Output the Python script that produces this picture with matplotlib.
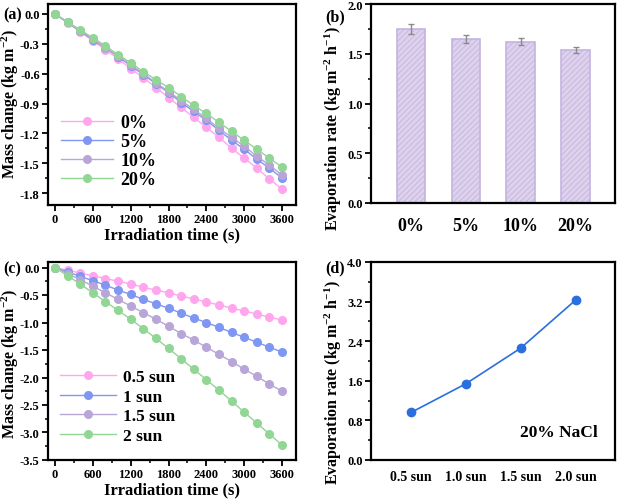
import matplotlib
matplotlib.use("Agg")
import matplotlib.pyplot as plt
from matplotlib.ticker import MultipleLocator, AutoMinorLocator

plt.rcParams['font.family'] = ['Liberation Serif', 'DejaVu Serif']
plt.rcParams['font.weight'] = 'bold'
plt.rcParams['axes.labelweight'] = 'bold'
plt.rcParams['mathtext.fontset'] = 'custom'
plt.rcParams['mathtext.rm'] = 'Liberation Serif:bold'
plt.rcParams['mathtext.default'] = 'rm'
plt.rcParams['hatch.linewidth'] = 0.6

# ---- data ----
time_s = [0, 200, 400, 600, 800, 1000, 1200, 1400, 1600, 1800, 2000,
          2200, 2400, 2600, 2800, 3000, 3200, 3400, 3600]

salt_labels = ['0%', '5%', '10%', '20%']
mass_0 = [0, -0.09, -0.18, -0.27, -0.36, -0.45, -0.55, -0.64, -0.74, -0.84,
          -0.94, -1.04, -1.14, -1.24, -1.35, -1.45, -1.55, -1.66, -1.76]
mass_5 = [0, -0.085, -0.17, -0.26, -0.34, -0.43, -0.52, -0.61, -0.70, -0.79,
          -0.89, -0.98, -1.07, -1.17, -1.27, -1.36, -1.46, -1.55, -1.65]
mass_10 = [0, -0.085, -0.17, -0.25, -0.34, -0.42, -0.51, -0.60, -0.69, -0.78,
           -0.87, -0.96, -1.05, -1.15, -1.24, -1.33, -1.43, -1.52, -1.62]
mass_20 = [0, -0.08, -0.16, -0.24, -0.32, -0.41, -0.49, -0.58, -0.66, -0.74,
           -0.83, -0.92, -1.00, -1.09, -1.18, -1.27, -1.36, -1.45, -1.54]

rate_salt = [1.75, 1.65, 1.62, 1.54]
rate_salt_err = [0.05, 0.04, 0.035, 0.03]

sun_labels = ['0.5 sun', '1 sun', '1.5 sun', '2 sun']
sun_05 = [0, -0.05, -0.10, -0.15, -0.20, -0.25, -0.30, -0.36, -0.41, -0.46,
          -0.52, -0.57, -0.63, -0.68, -0.74, -0.79, -0.85, -0.90, -0.96]
sun_10 = [0, -0.08, -0.16, -0.24, -0.32, -0.41, -0.49, -0.58, -0.66, -0.74,
          -0.83, -0.92, -1.00, -1.09, -1.18, -1.27, -1.36, -1.45, -1.54]
sun_15 = [0, -0.11, -0.22, -0.34, -0.46, -0.58, -0.70, -0.82, -0.94, -1.07,
          -1.20, -1.32, -1.45, -1.58, -1.71, -1.85, -1.98, -2.12, -2.25]
sun_20 = [0, -0.15, -0.30, -0.46, -0.62, -0.78, -0.94, -1.11, -1.29, -1.47,
          -1.66, -1.85, -2.04, -2.23, -2.43, -2.63, -2.83, -3.03, -3.23]

sun_ticks = ['0.5 sun', '1.0 sun', '1.5 sun', '2.0 sun']
rate_sun = [0.96, 1.54, 2.26, 3.23]

colors4 = ['#ffa6ee', '#7f97f2', '#b9a6d8', '#92d695']

fig = plt.figure(figsize=(6.2, 5.02), dpi=100)
W, H = 620, 502
def add_ax(l, t, r, b):
    return fig.add_axes([l / W, 1 - b / H, (r - l) / W, (b - t) / H])

ax_a = add_ax(48, 5, 296, 206)
ax_b = add_ax(371, 5, 615, 204)
ax_c = add_ax(48, 263, 296, 461)
ax_d = add_ax(371, 263, 615, 461)

def style(ax):
    for s in ax.spines.values():
        s.set_linewidth(1.6)
    ax.tick_params(direction='out', length=4, width=1.3, labelsize=9, pad=2)
    ax.tick_params(which='minor', direction='out', length=2.5, width=1.1)

mass_ylabel = 'Mass change (kg m$^{-2}$)'
rate_ylabel = 'Evaporation rate (kg m$^{-2}$ h$^{-1}$)'

# (a)
for ys, lab, c in zip([mass_0, mass_5, mass_10, mass_20], salt_labels, colors4):
    ax_a.plot(time_s, ys, '-o', color=c, lw=1.0, ms=5.5, label=lab)
ax_a.set_xlim(-110, 3820)
ax_a.set_ylim(-1.92, 0.1)
ax_a.xaxis.set_major_locator(MultipleLocator(600))
ax_a.xaxis.set_minor_locator(AutoMinorLocator(2))
ax_a.set_yticks([0, -0.3, -0.6, -0.9, -1.2, -1.5, -1.8])
ax_a.set_yticklabels(['0.0', '-0.3', '-0.6', '-0.9', '-1.2', '-1.5', '-1.8'])
ax_a.yaxis.set_minor_locator(AutoMinorLocator(2))
ax_a.set_xlabel('Irradiation time (s)', fontsize=12, labelpad=1)
ax_a.set_ylabel(mass_ylabel, fontsize=11.5)
ax_a.yaxis.set_label_coords(-0.11, 0.51)
ax_a.legend(loc='lower left', frameon=False, fontsize=13, handlelength=2.9,
            labelspacing=0.12, borderaxespad=0.3, handletextpad=0.4,
            bbox_to_anchor=(0.0, 0.02))
style(ax_a)

# (b)
xb = [1, 2, 3, 4]
ax_b.bar(xb, rate_salt, width=0.52, color='#ddd2ec', edgecolor='#c4b3e0',
         linewidth=1.2, hatch='//////')
ax_b.errorbar(xb, rate_salt, yerr=rate_salt_err, fmt='none', ecolor='#8a8a8a',
              elinewidth=1.0, capsize=2.5, capthick=1.0)
ax_b.set_xlim(0.27, 4.72)
ax_b.set_ylim(0, 2.0)
ax_b.set_xticks(xb)
ax_b.set_xticklabels(salt_labels)
ax_b.yaxis.set_major_locator(MultipleLocator(0.5))
ax_b.yaxis.set_minor_locator(AutoMinorLocator(2))
ax_b.set_ylabel(rate_ylabel, fontsize=11.5)
ax_b.yaxis.set_label_coords(-0.11, 0.38)
style(ax_b)
ax_b.tick_params(axis='x', length=0, pad=10, labelsize=13)

# (c)
for ys, lab, c in zip([sun_05, sun_10, sun_15, sun_20], sun_labels, colors4):
    ax_c.plot(time_s, ys, '-o', color=c, lw=1.0, ms=5.5, label=lab)
ax_c.set_xlim(-110, 3820)
ax_c.set_ylim(-3.5, 0.1)
ax_c.xaxis.set_major_locator(MultipleLocator(600))
ax_c.xaxis.set_minor_locator(AutoMinorLocator(2))
ax_c.set_yticks([0, -0.5, -1.0, -1.5, -2.0, -2.5, -3.0, -3.5])
ax_c.set_yticklabels(['0.0', '-0.5', '-1.0', '-1.5', '-2.0', '-2.5', '-3.0', '-3.5'])
ax_c.yaxis.set_minor_locator(AutoMinorLocator(2))
ax_c.set_xlabel('Irradiation time (s)', fontsize=12, labelpad=1)
ax_c.set_ylabel(mass_ylabel, fontsize=11.5)
ax_c.yaxis.set_label_coords(-0.11, 0.49)
ax_c.legend(loc='lower left', frameon=False, fontsize=12.5, handlelength=3.2,
            labelspacing=0.2, borderaxespad=0.3, handletextpad=0.4,
            bbox_to_anchor=(0.0, 0.02))
style(ax_c)

# (d)
ax_d.plot(xb, rate_sun, '-o', color='#2a6fe0', lw=1.2, ms=6)
ax_d.set_xlim(0.27, 4.72)
ax_d.set_ylim(0, 4.0)
ax_d.set_xticks(xb)
ax_d.set_xticklabels(sun_ticks)
ax_d.yaxis.set_major_locator(MultipleLocator(0.8))
ax_d.yaxis.set_minor_locator(AutoMinorLocator(2))
ax_d.set_ylabel(rate_ylabel, fontsize=11.5)
ax_d.yaxis.set_label_coords(-0.11, 0.395)
ax_d.text(0.93, 0.14, '20% NaCl', transform=ax_d.transAxes, ha='right',
          va='center', fontsize=12.5, fontweight='bold')
style(ax_d)
ax_d.tick_params(axis='x', length=0, pad=7, labelsize=10)

# panel letters
for lab, px, py in [('(a)', 3, 15), ('(b)', 325, 17), ('(c)', 3, 269), ('(d)', 325, 268)]:
    fig.text(px / W, 1 - py / H, lab, fontsize=11.5, fontweight='bold', va='center')

fig.savefig('out.png', dpi=100)
